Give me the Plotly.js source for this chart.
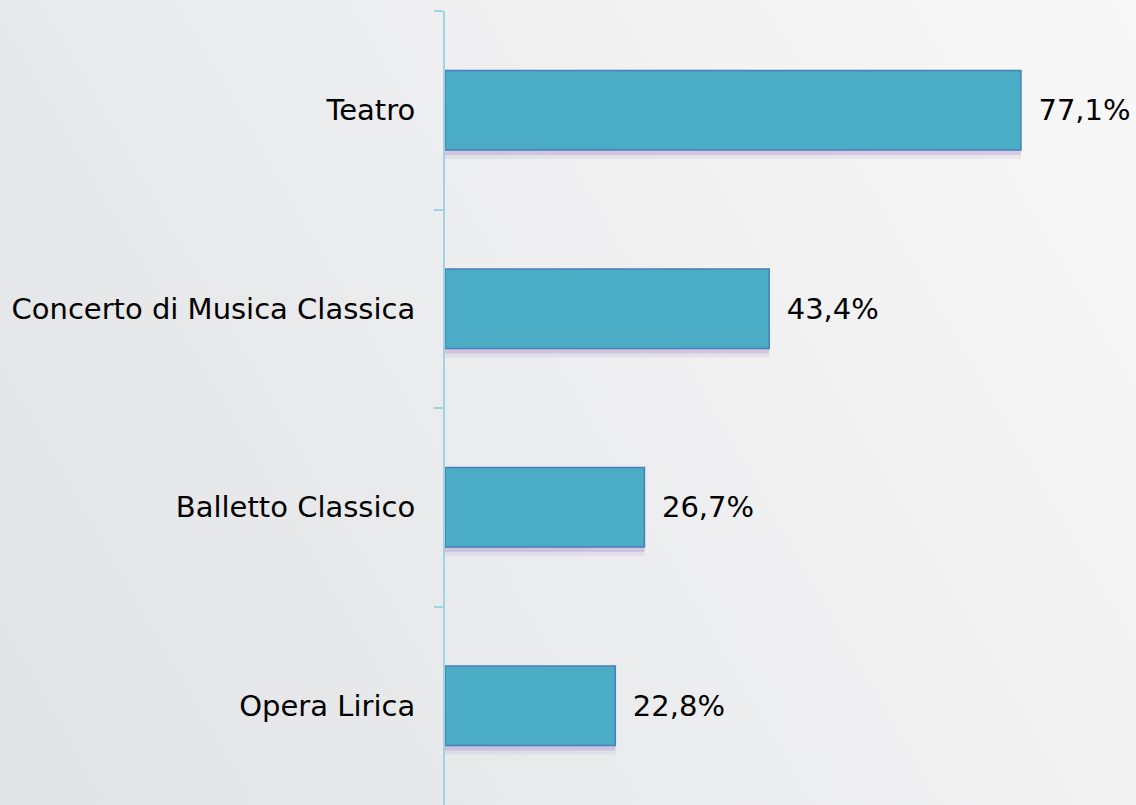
<!DOCTYPE html>
<html>
<head>
<meta charset="utf-8">
<script src="https://cdn.plot.ly/plotly-3.0.1.min.js"></script>
<style>
  html, body { margin: 0; padding: 0; }
  body {
    width: 1136px; height: 805px; overflow: hidden;
    background: linear-gradient(60deg, #e2e3e6 0%, #e9eaec 35%, #f1f1f2 65%, #f8f8f8 100%);
  }
  #chart { width: 1136px; height: 805px; }
</style>
</head>
<body>
<div id="chart"></div>
<script>
const categories = ["Teatro", "Concerto di Musica Classica", "Balletto Classico", "Opera Lirica"];
const values = [77.1, 43.4, 26.7, 22.8];

const fontFamily = "DejaVu Sans, Verdana, sans-serif";

const shadow1 = {
  type: "bar", orientation: "h", x: values, y: categories,
  width: 0.4, offset: -0.2 + 0.045,
  marker: { color: "rgba(130,95,180,0.10)", line: { width: 0 } },
  hoverinfo: "skip", showlegend: false
};
const shadow2 = {
  type: "bar", orientation: "h", x: values, y: categories,
  width: 0.4, offset: -0.2 + 0.025,
  marker: { color: "rgba(130,95,180,0.20)", line: { width: 0 } },
  hoverinfo: "skip", showlegend: false
};
const bars = {
  type: "bar", orientation: "h", x: values, y: categories,
  width: 0.4,
  marker: { color: "#4bacc6", line: { color: "#4a7ebb", width: 1.5 } },
  texttemplate: "\u2002%{x:.1f}%",
  textposition: "outside",
  cliponaxis: false,
  textfont: { family: fontFamily, size: 29, color: "#000000" },
  hoverinfo: "skip", showlegend: false
};

const layout = {
  width: 1136, height: 805,
  margin: { l: 445, r: 0, t: 11, b: 0 },
  paper_bgcolor: "rgba(0,0,0,0)",
  plot_bgcolor: "rgba(0,0,0,0)",
  separators: ",.",
  barmode: "overlay",
  font: { family: fontFamily, size: 29, color: "#000000" },
  xaxis: {
    range: [0, 92.5], visible: false, showgrid: false, zeroline: false, fixedrange: true
  },
  yaxis: {
    autorange: "reversed",
    type: "category",
    showline: true, linecolor: "#9fd4e2", linewidth: 2,
    ticks: "outside", tickson: "boundaries", ticklen: 9, tickcolor: "#9fd4e2", tickwidth: 2,
    ticklabelstandoff: 22,
    showgrid: false, zeroline: false,
    tickfont: { family: fontFamily, size: 29, color: "#000000" },
    fixedrange: true
  },
  showlegend: false
};

Plotly.newPlot("chart", [shadow1, shadow2, bars], layout, { displayModeBar: false, staticPlot: true });
</script>
</body>
</html>
